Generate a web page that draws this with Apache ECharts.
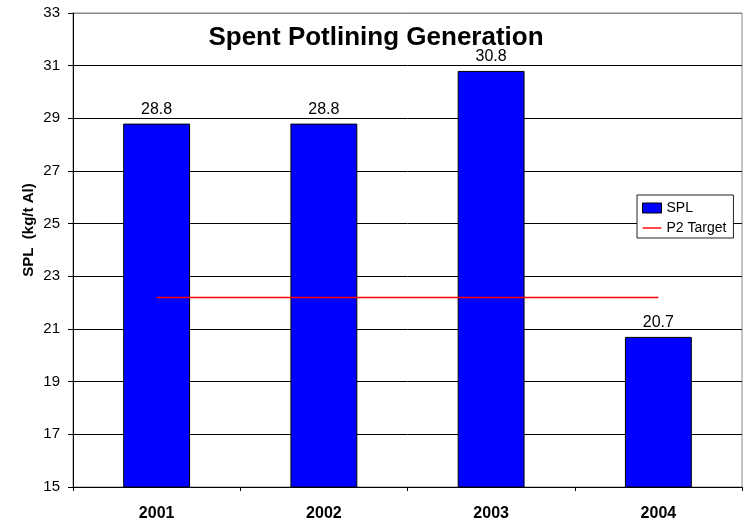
<!DOCTYPE html>
<html><head><meta charset="utf-8">
<script src="https://cdn.jsdelivr.net/npm/echarts@6/dist/echarts.min.js"></script>
<style>html,body{margin:0;padding:0;background:#fff}#c{width:744px;height:518px}</style>
</head><body><div id="c"></div>
<script>
var categories = ['2001', '2002', '2003', '2004'];
var splValues = [28.8, 28.8, 30.8, 20.7];
var targetValues = [22.2, 22.2, 22.2, 22.2];
var yMin = 15, yMax = 33, yStep = 2;

var FF = 'Liberation Sans, Arial, sans-serif';
var nLines = Math.round((yMax - yMin) / yStep) + 1;
var splitColors = [];
for (var i = 0; i < nLines; i++) splitColors.push(i === nLines - 1 ? '#888' : '#000');

var chart = echarts.init(document.getElementById('c'));
chart.setOption({
  animation: false,
  backgroundColor: '#fff',
  textStyle: { fontFamily: FF },
  title: {
    text: 'Spent Potlining Generation',
    left: 371, top: 20, textAlign: 'center',
    textStyle: { fontSize: 26, fontWeight: 'bold', color: '#000', fontFamily: FF }
  },
  legend: {
    orient: 'vertical', left: 637, top: 195,
    backgroundColor: '#fff', borderColor: '#222', borderWidth: 1,
    padding: [6, 7, 3, 5], itemGap: 6, itemWidth: 19, itemHeight: 10,
    textStyle: { fontSize: 14, color: '#000', fontFamily: FF, padding: [0, 0, 0, 0] },
    data: [
      { name: 'SPL', icon: 'rect', itemStyle: { color: '#0000ff', borderColor: '#000', borderWidth: 1 } },
      { name: 'P2 Target', icon: 'path://M0,0 L20,0 L20,1.5 L0,1.5 Z', itemStyle: { color: '#ff0000' } }
    ]
  },
  graphic: [{
    type: 'text', x: 29, y: 230, rotation: Math.PI / 2,
    style: { text: 'SPL  (kg/t Al)', align: 'center', verticalAlign: 'middle', fill: '#000', font: 'bold 15px ' + FF }
  }],
  grid: { left: 73, right: 2, top: 13, bottom: 31, show: true, borderColor: '#888', borderWidth: 1, backgroundColor: 'transparent', containLabel: false, outerBoundsMode: 'none' },
  xAxis: {
    type: 'category', data: categories, boundaryGap: true,
    axisLine: { lineStyle: { color: '#000', width: 1 } },
    axisTick: { show: true, length: 4, lineStyle: { color: '#000' } },
    axisLabel: { fontSize: 16, fontWeight: 'bold', color: '#000', margin: 19 }
  },
  yAxis: {
    type: 'value', min: yMin, max: yMax, interval: yStep,
    axisLine: { show: true, lineStyle: { color: '#000' } },
    axisTick: { show: true, length: 5, lineStyle: { color: '#000' } },
    axisLabel: { fontSize: 15, color: '#000', margin: 13 },
    splitLine: { show: true, lineStyle: { color: splitColors, width: 1 } }
  },
  series: [
    {
      name: 'SPL', type: 'bar', data: splValues, barWidth: '40%',
      itemStyle: { color: '#0000ff', borderColor: '#000', borderWidth: 1 },
      label: { show: true, position: 'top', distance: 6, fontSize: 16, color: '#000', formatter: function (p) { return p.value.toFixed(1); } }
    },
    {
      name: 'P2 Target', type: 'line', data: targetValues, symbol: 'none',
      lineStyle: { color: '#ff0000', width: 1.5 }, itemStyle: { color: '#ff0000' }, z: 3
    }
  ]
});
</script></body></html>
